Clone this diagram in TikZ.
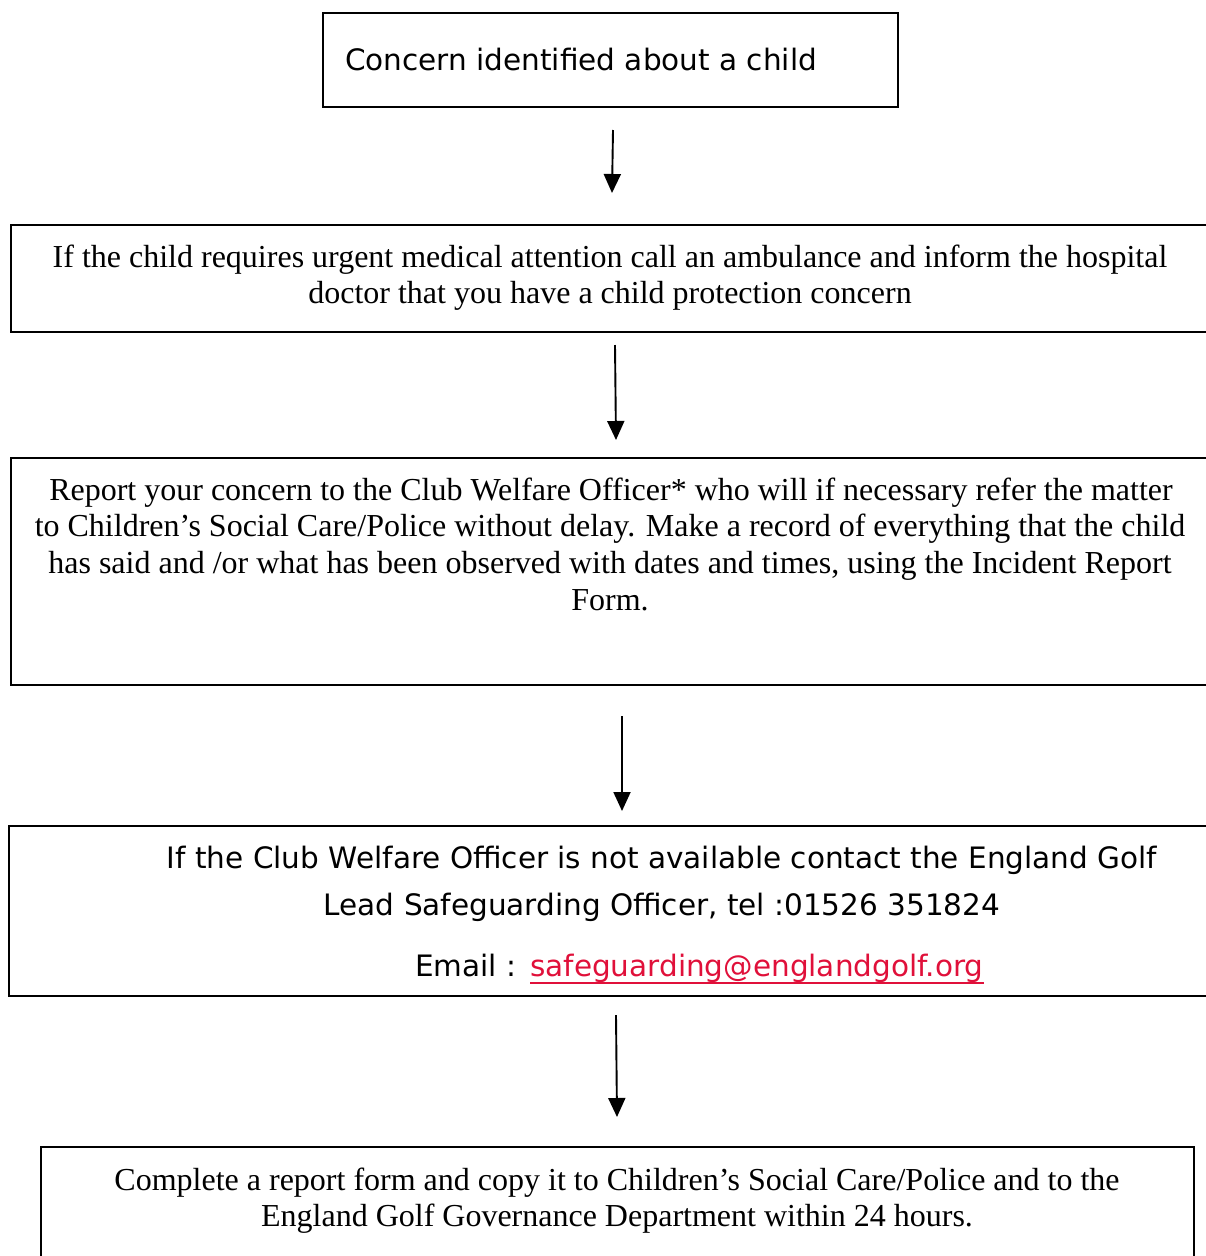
\documentclass[tikz,border=0pt]{standalone}
\usepackage{fontspec}
\setmainfont{Liberation Serif}
\newfontfamily\vfont{DejaVu Sans}
\usetikzlibrary{arrows.meta}
\definecolor{linkred}{HTML}{E0103A}
\begin{document}
\begin{tikzpicture}[x=1pt,y=-1pt,
  boxline/.style={draw=black,line width=2.7pt},
  serifline/.style={inner sep=0pt,anchor=base,font=\fontsize{32}{38}\selectfont},
  sansline/.style={inner sep=0pt,anchor=base,font=\vfont\fontsize{29.5}{35}\selectfont},
  flowarrow/.style={line width=1.9pt,-{Triangle[width=17pt,length=19pt]}}]
\useasboundingbox (0,0) rectangle (1206,1256);
\clip (0,0) rectangle (1206,1256);
% boxes
\draw[boxline] (323,13) rectangle (898,107);
\draw[boxline] (11,225) rectangle (1230,332);
\draw[boxline] (11,458) rectangle (1230,685);
\draw[boxline] (9,826) rectangle (1230,996);
\draw[boxline] (41,1147) rectangle (1194,1290);
% box 1 text
\node[sansline,anchor=base west] (t1) at (345,70) {Concern identified about a child};
% box 2 text
\node[serifline] (t2a) at (610,267) {If the child requires urgent medical attention call an ambulance and inform the hospital};
\node[serifline] (t2b) at (610,303) {doctor that you have a child protection concern};
% box 3 text
\node[serifline] (t3a) at (611,500) {Report your concern to the Club Welfare Officer* who will if necessary refer the matter};
\node[serifline] (t3b) at (610,536) {to Children’s Social Care/Police without delay. Make a record of everything that the child};
\node[serifline] (t3c) at (610,573) {has said and /or what has been observed with dates and times, using the Incident Report};
\node[serifline] (t3d) at (610,610) {Form.};
% box 4 text
\node[sansline] (t4a) at (662,868) {If the Club Welfare Officer is not available contact the England Golf};
\node[sansline] (t4b) at (662,915) {Lead Safeguarding Officer, tel :01526 351824};
\node[sansline,anchor=base west] (t4c) at (415,976) {Email :};
\node[sansline,anchor=base west,text=linkred] (t4e) at (530,976) {safeguarding@englandgolf.org};
\draw[linkred,line width=2pt] ([yshift=-7pt]t4e.base west) -- ([yshift=-7pt]t4e.base east);
% box 5 text
\node[serifline] (t5a) at (617,1190) {Complete a report form and copy it to Children’s Social Care/Police and to the};
\node[serifline] (t5b) at (617,1226) {England Golf Governance Department within 24 hours.};
% arrows
\coordinate (a1s) at (613,130); \coordinate (a1e) at (612,193);
\coordinate (a2s) at (615,345); \coordinate (a2e) at (616,440);
\coordinate (a3s) at (622,716); \coordinate (a3e) at (622,811);
\coordinate (a4s) at (616,1015); \coordinate (a4e) at (617,1117);
\draw[flowarrow] (a1s) -- (a1e);
\draw[flowarrow] (a2s) -- (a2e);
\draw[flowarrow] (a3s) -- (a3e);
\draw[flowarrow] (a4s) -- (a4e);
\end{tikzpicture}
\end{document}
